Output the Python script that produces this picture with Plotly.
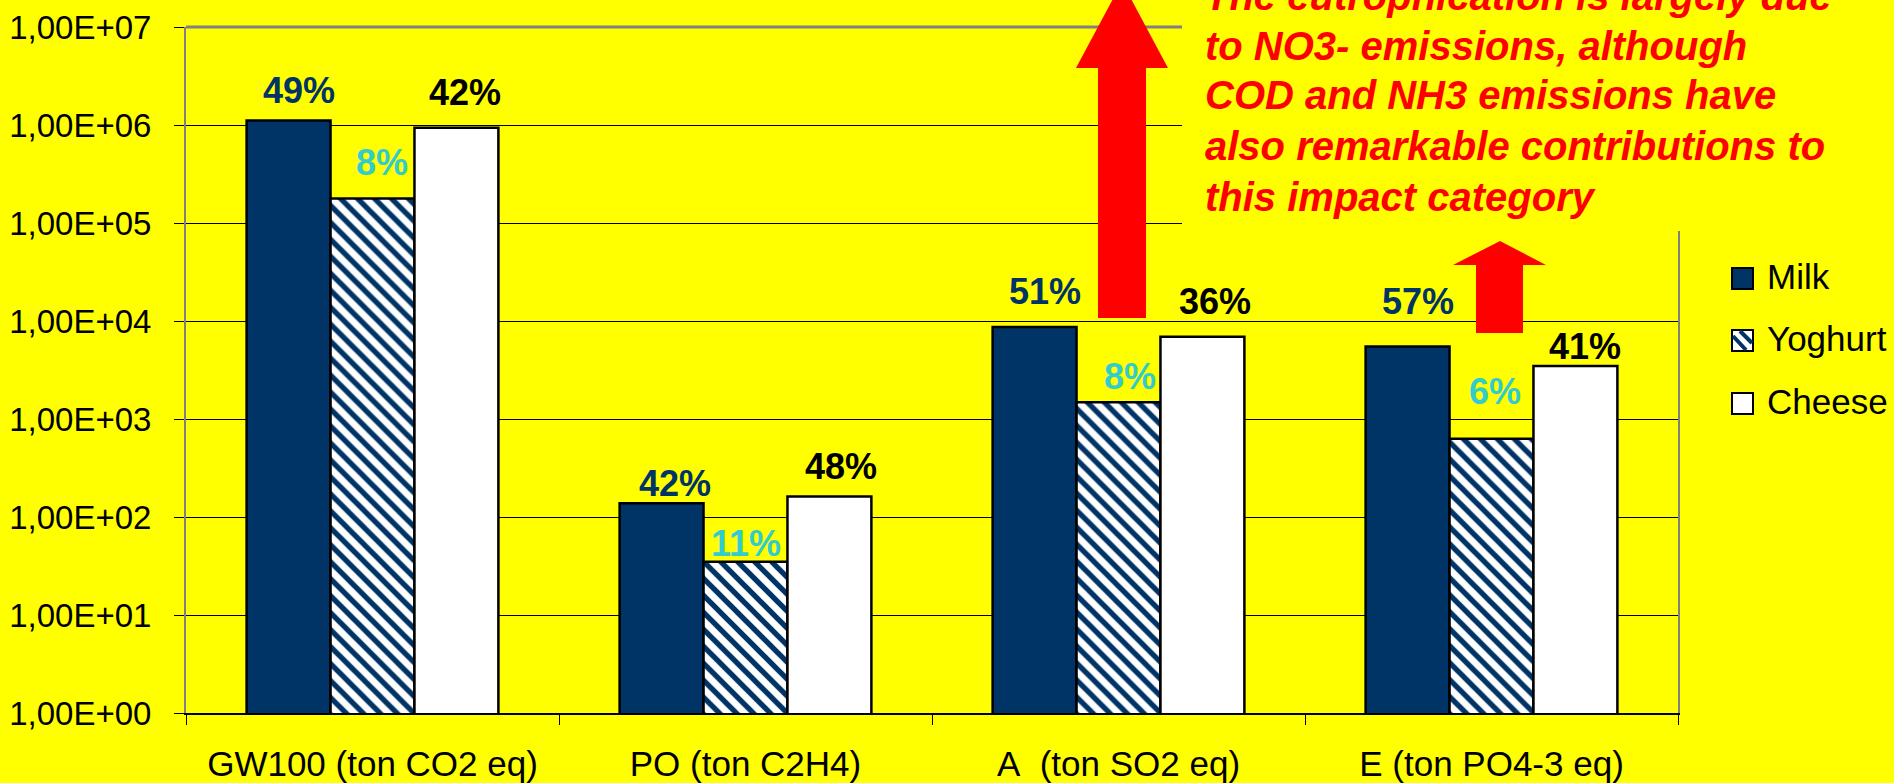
import numpy as np
import plotly.graph_objects as go

# ---------------- data ----------------
categories = ["GW100 (ton CO2 eq)", "PO (ton C2H4)", "A\u00a0 (ton SO2 eq)", "E (ton PO4-3 eq)"]
series_names = ["Milk", "Yoghurt", "Cheese"]
milk = [1.11e6, 138, 8.7e3, 5.5e3]
yoghurt = [1.78e5, 35, 1.48e3, 627]
cheese = [9.4e5, 162, 6.9e3, 3.48e3]
milk_pct = ["49%", "42%", "51%", "57%"]
yoghurt_pct = ["8%", "11%", "8%", "6%"]
cheese_pct = ["42%", "48%", "36%", "41%"]
ytick_vals = [1, 10, 100, 1e3, 1e4, 1e5, 1e6, 1e7]
ytick_text = ["1,00E+00", "1,00E+01", "1,00E+02", "1,00E+03",
              "1,00E+04", "1,00E+05", "1,00E+06", "1,00E+07"]
note_lines = ["The eutrophication is largely due",
              "to NO3- emissions, although",
              "COD and NH3 emissions have",
              "also remarkable contributions to",
              "this impact category"]

# ---------------- layout geometry / styles ----------------
W, H = 1894, 783
L, R, T, B = 186, 216, 27, 70
PW, PH = W - L - R, H - T - B
BARGAP = 0.325
BAR_PX = PW / len(categories) * (1 - BARGAP) / 3

NAVY = "#003366"
CYAN = "#33CCCC"
YELLOW = "#FFFF00"
RED = "#FF0000"
GRAY = "#808080"
FONT = "Liberation Sans, Arial, sans-serif"


def px(x):
    return (x - L) / PW


def py(y):
    return (H - B - y) / PH


fig = go.Figure()
line_style = dict(color="black", width=2.5)
fig.add_trace(go.Bar(x=categories, y=milk, name=series_names[0], showlegend=False,
                     marker=dict(color=NAVY, line=line_style)))
fig.add_trace(go.Bar(x=categories, y=yoghurt, name=series_names[1], showlegend=False,
                     marker=dict(color="white", line=line_style,
                                 pattern=dict(shape="\\", fgcolor=NAVY, bgcolor="white",
                                              size=12, solidity=0.45, fillmode="replace"))))
fig.add_trace(go.Bar(x=categories, y=cheese, name=series_names[2], showlegend=False,
                     marker=dict(color="white", line=line_style)))

annotations = []
# percentage labels (per-label pixel nudges, as placed in the original)
label_dx = [[10, 13, 10, 10], [9, 0, 11, 3], [9, 12, 13, 10]]
label_gap = [[19, 9, 24, 34], [25, 7, 15, 36], [24, 19, 24, 8]]
label_colors = [NAVY, CYAN, "black"]
for j, (vals, pcts) in enumerate([(milk, milk_pct), (yoghurt, yoghurt_pct), (cheese, cheese_pct)]):
    for i, cat in enumerate(categories):
        annotations.append(dict(
            x=cat, y=np.log10(vals[i]), xref="x", yref="y",
            text=f"<b>{pcts[i]}</b>", showarrow=False,
            xanchor="center", yanchor="middle",
            xshift=(j - 1) * BAR_PX + label_dx[j][i],
            yshift=label_gap[j][i] + 11,
            font=dict(family=FONT, size=36, color=label_colors[j])))

# note text lines
note_fs = 40
note_baselines = [10, 60, 109, 160, 211]
for k, txt in enumerate(note_lines):
    annotations.append(dict(
        x=px(1203), y=py(note_baselines[k] - 0.3465 * note_fs), xref="paper", yref="paper",
        text=f"<b><i>{txt}</i></b>", showarrow=False, xanchor="left", yanchor="middle",
        font=dict(family=FONT, size=note_fs, color=RED)))

# legend texts
legend_centers = [276.5, 338.5, 401]
for k, name in enumerate(series_names):
    annotations.append(dict(
        x=px(1765), y=py(legend_centers[k]), xref="paper", yref="paper",
        text=name, showarrow=False, xanchor="left", yanchor="middle",
        font=dict(family=FONT, size=35, color="black")))

shapes = []
# top border of the plot area
shapes.append(dict(type="line", xref="paper", yref="paper", x0=0, x1=1, y0=1, y1=1,
                   line=dict(color=GRAY, width=3), layer="above"))
# yellow text box covering the top right
shapes.append(dict(type="rect", xref="paper", yref="paper",
                   x0=px(1182), x1=px(1900), y0=py(231), y1=py(-10),
                   fillcolor=YELLOW, line=dict(width=0), layer="above"))


def arrow_path(tip_x, tip_y, head_y, head_x0, head_x1, sh_x0, sh_x1, bottom):
    pts = [(tip_x, tip_y), (head_x1, head_y), (sh_x1, head_y), (sh_x1, bottom),
           (sh_x0, bottom), (sh_x0, head_y), (head_x0, head_y)]
    return "M " + " L ".join(f"{px(a):.5f},{py(b):.5f}" for a, b in pts) + " Z"


shapes.append(dict(type="path", xref="paper", yref="paper",
                   path=arrow_path(1122, -18, 68, 1076, 1168, 1098, 1146, 318),
                   fillcolor=RED, line=dict(width=0), layer="above"))
shapes.append(dict(type="path", xref="paper", yref="paper",
                   path=arrow_path(1500, 241, 265, 1453, 1546, 1476, 1523, 333),
                   fillcolor=RED, line=dict(width=0), layer="above"))

# legend squares
sq = 21
sq_x0 = 1732
sq_tops = [268, 330, 393]
shapes.append(dict(type="rect", xref="paper", yref="paper",
                   x0=px(sq_x0), x1=px(sq_x0 + sq), y0=py(sq_tops[0] + sq), y1=py(sq_tops[0]),
                   fillcolor=NAVY, line=dict(color="black", width=2), layer="above"))
shapes.append(dict(type="rect", xref="paper", yref="paper",
                   x0=px(sq_x0), x1=px(sq_x0 + sq), y0=py(sq_tops[1] + sq), y1=py(sq_tops[1]),
                   fillcolor="white", line=dict(color="black", width=2), layer="above"))
for (a0, b0, a1, b1) in [(sq_x0 + 1, sq_tops[1] + 6, sq_x0 + 14, sq_tops[1] + 20),
                         (sq_x0 + 8, sq_tops[1] + 1, sq_x0 + 20, sq_tops[1] + 13)]:
    shapes.append(dict(type="line", xref="paper", yref="paper",
                       x0=px(a0), y0=py(b0), x1=px(a1), y1=py(b1),
                       line=dict(color=NAVY, width=4), layer="above"))
shapes.append(dict(type="rect", xref="paper", yref="paper",
                   x0=px(sq_x0), x1=px(sq_x0 + sq), y0=py(sq_tops[2] + sq), y1=py(sq_tops[2]),
                   fillcolor="white", line=dict(color="black", width=2), layer="above"))

fig.update_layout(
    width=W, height=H,
    margin=dict(l=L, r=R, t=T, b=B, autoexpand=False),
    paper_bgcolor=YELLOW, plot_bgcolor=YELLOW,
    barmode="group", bargap=BARGAP, bargroupgap=0,
    showlegend=False,
    font=dict(family=FONT, color="black"),
    annotations=annotations, shapes=shapes,
)
fig.update_xaxes(
    showline=True, linecolor="black", linewidth=2,
    ticks="outside", tickson="boundaries", ticklen=10, tickcolor="black", tickwidth=1,
    tickfont=dict(family=FONT, size=35, color="black"), ticklabelstandoff=19,
    showgrid=False, zeroline=False,
)
fig.update_yaxes(
    type="log", range=[0, 7], tickvals=ytick_vals, ticktext=ytick_text,
    showgrid=True, gridcolor="black", gridwidth=1,
    showline=True, linecolor=GRAY, linewidth=2, mirror=True,
    ticks="outside", ticklen=10, tickcolor="black", tickwidth=1,
    tickfont=dict(family=FONT, size=33, color="black"), ticklabelstandoff=16,
    zeroline=False,
)

fig.write_html(
    "out.html",
    config={"displayModeBar": False},
    post_script="document.body.style.margin='0';document.body.style.overflow='hidden';",
)
